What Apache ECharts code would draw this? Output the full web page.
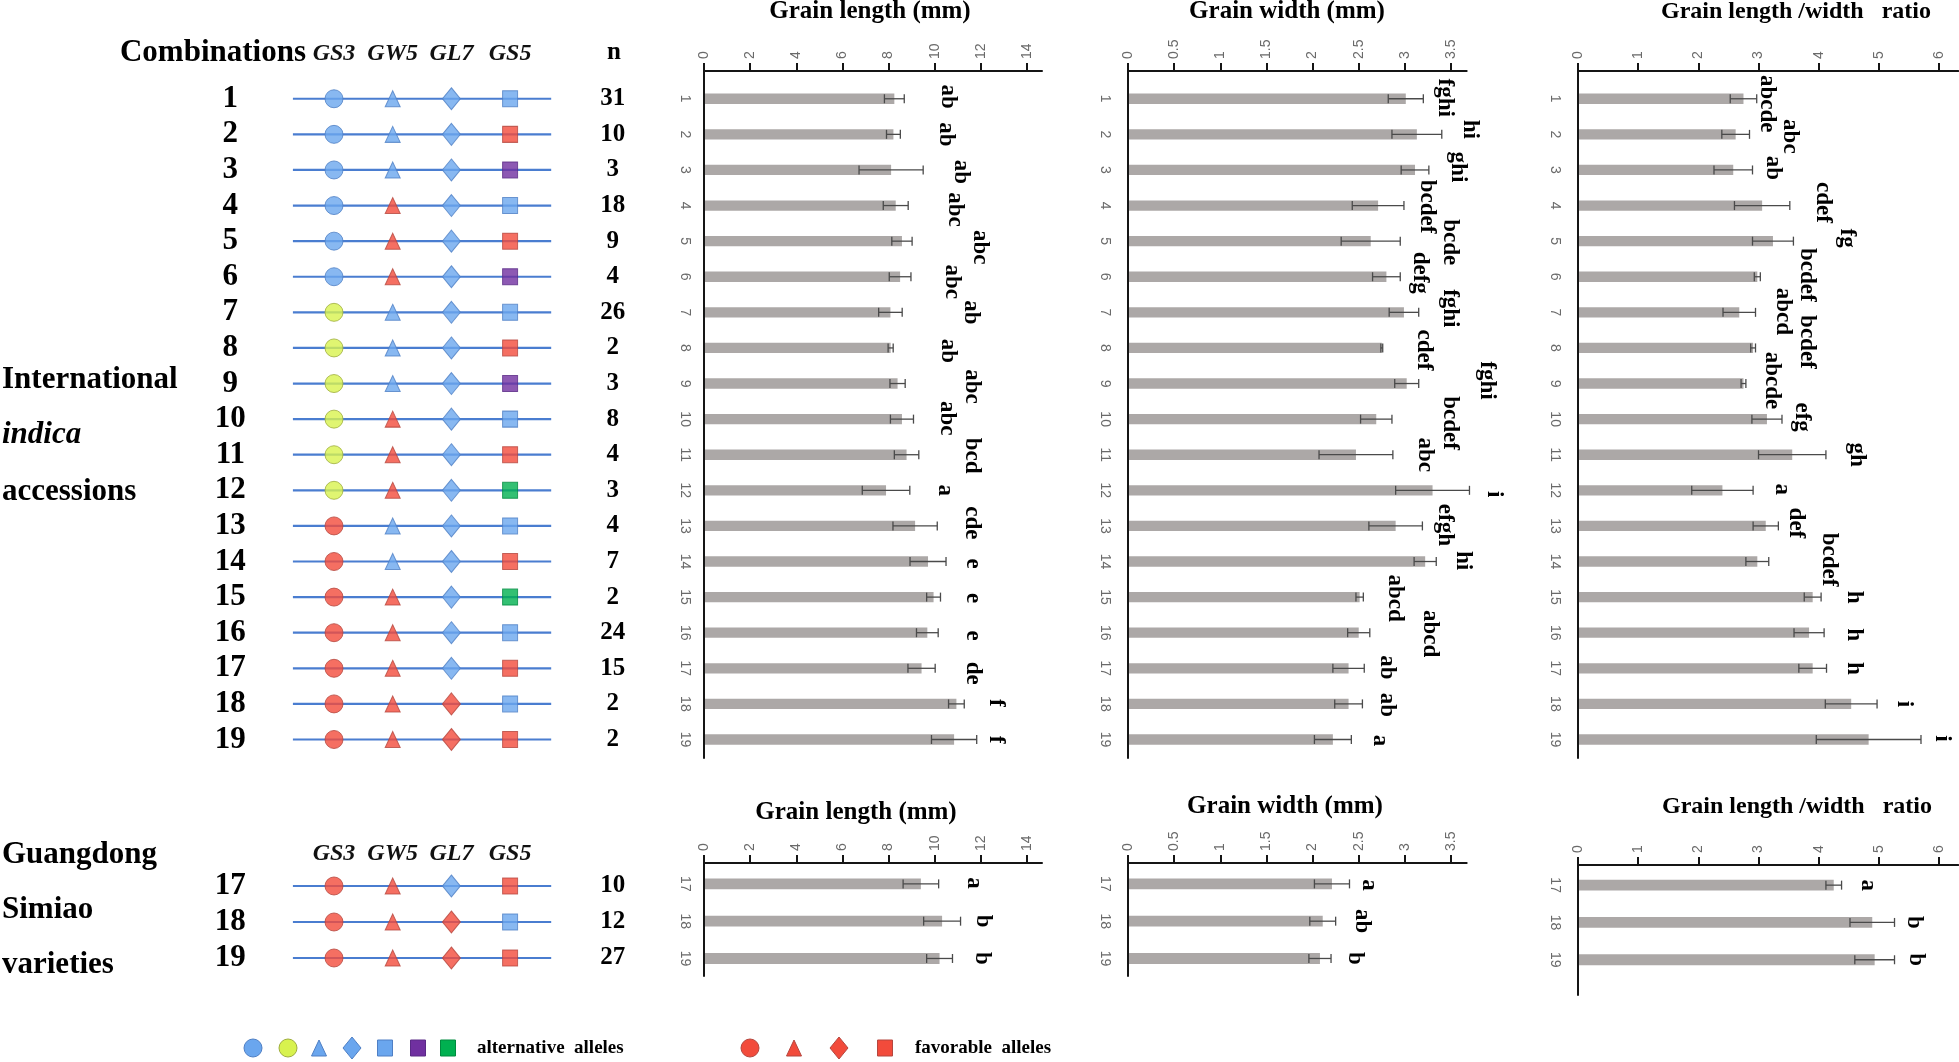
<!DOCTYPE html>
<html><head><meta charset="utf-8">
<script src="https://cdn.jsdelivr.net/npm/echarts@6/dist/echarts.min.js"></script>
<style>html,body{margin:0;padding:0;background:#fff}#c{width:1959px;height:1062px}</style>
</head><body><div id="c"></div>
<script>
// ---------------- DATA ----------------
const combosTop = [1,2,3,4,5,6,7,8,9,10,11,12,13,14,15,16,17,18,19];
const combosBottom = [17,18,19];
const genes = ['GS3','GW5','GL7','GS5'];
// allele code per gene (B blue alt, Y yellow alt, P purple alt, G green alt, R favorable)
const genotypesTop = ['BBBB','BBBR','BBBP','BRBB','BRBR','BRBP','YBBB','YBBR','YBBP','YRBB','YRBR','YRBG','RBBB','RBBR','RRBG','RRBB','RRBR','RRRB','RRRR'];
const genotypesBottom = ['RRBR','RRRB','RRRR'];
const nTop = [31,10,3,18,9,4,26,2,3,8,4,3,4,7,2,24,15,2,2];
const nBottom = [10,12,27];

const lengthMeanTop = [8.25,8.21,8.11,8.31,8.58,8.50,8.08,8.09,8.39,8.58,8.78,7.89,9.15,9.71,9.95,9.68,9.43,10.94,10.84];
const lengthSdTop   = [0.43,0.30,1.39,0.54,0.44,0.47,0.51,0.11,0.33,0.50,0.53,1.03,0.96,0.78,0.30,0.47,0.59,0.34,0.98];
const lengthLettersTop = ['ab','ab','ab','abc','abc','abc','ab','ab','abc','abc','bcd','a','cde','e','e','e','de','f','f'];

const widthMeanTop = [3.01,3.13,3.11,2.71,2.63,2.80,2.99,2.75,3.02,2.69,2.47,3.30,2.90,3.22,2.51,2.50,2.39,2.39,2.22];
const widthSdTop   = [0.19,0.27,0.15,0.28,0.32,0.15,0.16,0.01,0.13,0.17,0.40,0.40,0.29,0.12,0.04,0.12,0.17,0.15,0.20];
const widthLettersTop = ['fghi','hi','ghi','bcdef','bcde','defg','fghi','cdef','fghi','bcdef','abc','i','efgh','hi','abcd','abcd','ab','ab','a'];

const ratioMeanTop = [2.75,2.62,2.58,3.06,3.24,2.98,2.68,2.91,2.75,3.14,3.56,2.40,3.12,2.98,3.90,3.84,3.90,4.54,4.83];
const ratioSdTop   = [0.22,0.23,0.32,0.46,0.34,0.05,0.27,0.04,0.04,0.25,0.56,0.51,0.21,0.19,0.14,0.25,0.23,0.43,0.87];
const ratioLettersTop = ['abcde','abc','ab','cdef','fg','bcdef','abcd','bcdef','abcde','efg','gh','a','def','bcdef','h','h','h','i','i'];

const lengthMeanBottom = [9.40,10.32,10.21];
const lengthSdBottom   = [0.77,0.80,0.56];
const lengthLettersBottom = ['a','b','b'];
const widthMeanBottom = [2.21,2.11,2.08];
const widthSdBottom   = [0.19,0.14,0.12];
const widthLettersBottom = ['a','ab','b'];
const ratioMeanBottom = [4.25,4.89,4.93];
const ratioSdBottom   = [0.13,0.37,0.33];
const ratioLettersBottom = ['a','b','b'];

const lengthTicks = [0,2,4,6,8,10,12,14];
const widthTicks = [0,0.5,1,1.5,2,2.5,3,3.5];
const ratioTicks = [0,1,2,3,4,5,6];

const titleLength = 'Grain length (mm)';
const titleWidth = 'Grain width (mm)';
const titleRatio = 'Grain length /width   ratio';

// ---------------- LAYOUT (pixel offsets of the significance letters) ----------------
const SHIFT_LEN_TOP = {dx:[44,46,38,47,68,41,69,55,67,33,53,35,35,27,32,35,38,32,19], dy:[-2,0,2,4,6,5,0,3,3,-1,1,0,-3,2,1,3,5,-1,0]};
const SHIFT_WID_TOP = {dx:[22,28,29,23,50,20,31,41,68,58,32,24,23,27,32,60,23,25,29], dy:[-1,-5,-3,1,1,-4,-4,2,-3,4,0,4,-1,-1,1,1,-1,1,1]};
const SHIFT_RAT_TOP = {dx:[10,40,20,33,54,47,27,51,26,20,31,29,18,60,33,30,27,27,21], dy:[5,2,-2,-3,-3,-2,-1,-6,-3,-2,0,-1,-3,-2,0,2,0,0,-1]};
const SHIFT_LEN_BOT = {dx:[35,22,29], dy:[-1,0,0]};
const SHIFT_WID_BOT = {dx:[19,26,24], dy:[1,0,0]};
const SHIFT_RAT_BOT = {dx:[26,19,21], dy:[0,0,0]};

const SERIF = '"Liberation Serif", "Times New Roman", serif';
const SANS = '"Liberation Sans", Arial, sans-serif';
const ALLELE = {
  B:{fill:'#6aa6ee', stroke:'#4f7fc4'},
  Y:{fill:'#d8f24e', stroke:'#9fae3d'},
  R:{fill:'#f24b3b', stroke:'#b5473f'},
  P:{fill:'#7030a0', stroke:'#5a2a86'},
  G:{fill:'#00b050', stroke:'#008a3e'}
};
const SYMBOLS = ['circle','triangle','diamond','rect'];
const SYMBOL_SIZES = [[18,18],[15,16],[18,22],[15,16]];
const BAR_COLOR = '#aca8a7';
const ERR_COLOR = '#4a4a4a';
const AXIS_COLOR = '#151515';

// grids: 0 geno top, 1 len top, 2 wid top, 3 ratio top, 4 geno bottom, 5 len bottom, 6 wid bottom, 7 ratio bottom
const grids = [
  {left:275.3, top:71, width:293.5, height:687},
  {left:704, top:71, width:338, height:687},
  {left:1128, top:71, width:338.7, height:687},
  {left:1578, top:71, width:380.3, height:687},
  {left:275.3, top:870, width:293.5, height:106},
  {left:704, top:863, width:338, height:113},
  {left:1128, top:863, width:338.7, height:113},
  {left:1578, top:865, width:380.3, height:130}
];
const yRange = [[0.22,19.52],[0.22,19.52],[0.22,19.52],[0.22,19.52],[16.556,19.5],[16.44,19.47],[16.44,19.47],[16.46,19.945]];

function barXAxis(gi, max, ticks){
  return {gridIndex:gi, type:'value', position:'top', min:0, max:max,
    axisLine:{show:true, onZero:false, lineStyle:{color:AXIS_COLOR, width:2}},
    axisTick:{show:true, customValues:ticks, length:8, lineStyle:{color:AXIS_COLOR, width:2}},
    axisLabel:{customValues:ticks, rotate:-90, margin:12, color:'#6a6a6a', fontSize:14, fontFamily:SANS},
    splitLine:{show:false}};
}
function barYAxis(gi, cats, margin){
  return {gridIndex:gi, type:'value', inverse:true, min:yRange[gi][0], max:yRange[gi][1],
    axisLine:{show:true, onZero:false, lineStyle:{color:AXIS_COLOR, width:2}},
    axisTick:{show:false},
    axisLabel:{customValues:cats, rotate:-90, margin:margin, color:'#6a6a6a', fontSize:14, fontFamily:SANS},
    splitLine:{show:false}};
}
function genoXAxis(gi, margin){
  return {gridIndex:gi, type:'value', position:'top', min:-1, max:4,
    axisLine:{show:false}, axisTick:{show:false}, splitLine:{show:false},
    axisLabel:{customValues:[0,1,2,3], formatter:v=>genes[Math.round(v)], margin:margin,
      fontStyle:'italic', fontWeight:'bold', fontSize:24, fontFamily:SERIF, color:'#111'}};
}
function genoYAxis(gi, cats){
  return {gridIndex:gi, type:'value', inverse:true, min:yRange[gi][0], max:yRange[gi][1],
    axisLine:{show:false}, axisTick:{show:false}, splitLine:{show:false},
    axisLabel:{customValues:cats, align:'center', margin:45, fontWeight:'bold', fontSize:31, fontFamily:SERIF, color:'#000'}};
}
function nYAxis(gi, cats, ns){
  return {gridIndex:gi, type:'value', position:'right', inverse:true, min:yRange[gi][0], max:yRange[gi][1],
    axisLine:{show:false}, axisTick:{show:false}, splitLine:{show:false},
    axisLabel:{customValues:cats, formatter:v=>String(ns[cats.indexOf(Math.round(v))]), align:'center', margin:44,
      fontWeight:'bold', fontSize:25, fontFamily:SERIF, color:'#000'}};
}

function barSeries(gi, cats, means, sds, letters, shift){
  return {type:'custom', xAxisIndex:gi, yAxisIndex:gi, clip:false, silent:true, z:3,
    data: cats.map((c,i)=>[means[i], c, sds[i], i]),
    encode:{x:0, y:1},
    renderItem:function(params, api){
      const m = api.value(0), c = api.value(1), sd = api.value(2), i = api.value(3);
      const p0 = api.coord([0, c]);
      const p1 = api.coord([m, c]);
      const band = api.size([0,1])[1];
      const h = band*0.29;
      const lo = api.coord([m-sd, c]);
      const hi = api.coord([m+sd, c]);
      const cap = 4.5;
      const ch = [
        {type:'rect', shape:{x:p0[0]+1, y:p0[1]-h/2, width:p1[0]-p0[0]-1, height:h}, style:{fill:BAR_COLOR}},
        {type:'line', shape:{x1:lo[0], y1:lo[1], x2:hi[0], y2:hi[1]}, style:{stroke:ERR_COLOR, lineWidth:1.3}},
        {type:'line', shape:{x1:lo[0], y1:lo[1]-cap, x2:lo[0], y2:lo[1]+cap}, style:{stroke:ERR_COLOR, lineWidth:1.3}},
        {type:'line', shape:{x1:hi[0], y1:hi[1]-cap, x2:hi[0], y2:hi[1]+cap}, style:{stroke:ERR_COLOR, lineWidth:1.3}},
        {type:'text', x:hi[0]+shift.dx[i], y:p1[1]+shift.dy[i], rotation:-Math.PI/2,
          style:{text:letters[i], align:'center', verticalAlign:'middle', fill:'#000',
            font:'bold 23px '+SERIF}}
      ];
      return {type:'group', children:ch};
    }};
}

function genoLineSeries(gi, cats){
  return {type:'custom', xAxisIndex:gi, yAxisIndex:gi, clip:false, silent:true, z:1,
    data: cats.map(c=>[0,c]), encode:{x:0, y:1},
    renderItem:function(params, api){
      const c = api.value(1);
      const a = api.coord([-0.7, c]), b = api.coord([3.7, c]);
      return {type:'line', shape:{x1:a[0], y1:a[1], x2:b[0], y2:b[1]}, style:{stroke:'#4a7dd0', lineWidth:2.2}};
    }};
}
function genoScatter(gi, cats, genotypes){
  const data = [];
  cats.forEach((c,i)=>{
    genes.forEach((g,j)=>{
      const a = ALLELE[genotypes[i][j]];
      data.push({value:[j,c], symbol:SYMBOLS[j], symbolSize:SYMBOL_SIZES[j],
        itemStyle:{color:a.fill, borderColor:a.stroke, borderWidth:1}});
    });
  });
  return {type:'scatter', xAxisIndex:gi, yAxisIndex:gi, silent:true, z:2, data:data};
}

function txt(text, x, y, font, align){
  return {type:'text', x:x, y:y, style:{text:text, font:font, fill:'#000', align:align||'center', verticalAlign:'middle'}};
}
function symEl(kind, x, y, code){
  const c = ALLELE[code];
  const style = {fill:c.fill, stroke:c.stroke, lineWidth:1};
  if (kind==='circle') return {type:'circle', x:x, y:y, shape:{cx:0, cy:0, r:9}, style:style};
  if (kind==='triangle') return {type:'polygon', x:x, y:y, shape:{points:[[0,-8],[7.5,8],[-7.5,8]]}, style:style};
  if (kind==='diamond') return {type:'polygon', x:x, y:y, shape:{points:[[0,-11],[9,0],[0,11],[-9,0]]}, style:style};
  return {type:'rect', x:x, y:y, shape:{x:-7.5, y:-8, width:15, height:16}, style:style};
}

const legendAlt = [['circle','B'],['circle','Y'],['triangle','B'],['diamond','B'],['rect','B'],['rect','P'],['rect','G']];
const legendFav = [['circle','R'],['triangle','R'],['diamond','R'],['rect','R']];
const LEG_ALT_X = [253,288,319,352,385,418,448];
const LEG_FAV_X = [750,794,839,885];
const LEG_Y = 1048;

const B31 = 'bold 31px '+SERIF;
const graphic = [
  txt('Combinations', 213, 53, B31),
  txt('n', 614, 53, 'bold 25px '+SERIF),
  txt('International', 2, 380, B31, 'left'),
  txt('indica', 2, 435, 'italic '+B31, 'left'),
  txt('accessions', 2, 492, B31, 'left'),
  txt('Guangdong', 2, 855, B31, 'left'),
  txt('Simiao', 2, 910, B31, 'left'),
  txt('varieties', 2, 965, B31, 'left'),
  txt(titleLength, 870, 12, 'bold 25px '+SERIF),
  txt(titleWidth, 1287, 12, 'bold 25px '+SERIF),
  txt(titleRatio, 1796, 12, 'bold 24px '+SERIF),
  txt(titleLength, 856, 813, 'bold 25px '+SERIF),
  txt(titleWidth, 1285, 807, 'bold 25px '+SERIF),
  txt(titleRatio, 1797, 807, 'bold 24px '+SERIF),
  txt('alternative  alleles', 477, LEG_Y, 'bold 19px '+SERIF, 'left'),
  txt('favorable  alleles', 915, LEG_Y, 'bold 19px '+SERIF, 'left')
];
legendAlt.forEach((s,i)=>graphic.push(symEl(s[0], LEG_ALT_X[i], LEG_Y, s[1])));
legendFav.forEach((s,i)=>graphic.push(symEl(s[0], LEG_FAV_X[i], LEG_Y, s[1])));

const option = {
  animation:false,
  backgroundColor:'#fff',
  grid: grids.map(g=>Object.assign({containLabel:false}, g)),
  xAxis:[
    genoXAxis(0, 5),
    barXAxis(1, 14.65, lengthTicks),
    barXAxis(2, 3.67, widthTicks),
    barXAxis(3, 6.32, ratioTicks),
    genoXAxis(4, 4),
    barXAxis(5, 14.65, lengthTicks),
    barXAxis(6, 3.67, widthTicks),
    barXAxis(7, 6.32, ratioTicks)
  ],
  yAxis:[
    genoYAxis(0, combosTop),
    barYAxis(1, combosTop, 12),
    barYAxis(2, combosTop, 16),
    barYAxis(3, combosTop, 16),
    genoYAxis(4, combosBottom),
    barYAxis(5, combosBottom, 12),
    barYAxis(6, combosBottom, 16),
    barYAxis(7, combosBottom, 16),
    nYAxis(0, combosTop, nTop),
    nYAxis(4, combosBottom, nBottom)
  ],
  graphic: graphic,
  series:[
    genoLineSeries(0, combosTop),
    genoScatter(0, combosTop, genotypesTop),
    genoLineSeries(4, combosBottom),
    genoScatter(4, combosBottom, genotypesBottom),
    barSeries(1, combosTop, lengthMeanTop, lengthSdTop, lengthLettersTop, SHIFT_LEN_TOP),
    barSeries(2, combosTop, widthMeanTop, widthSdTop, widthLettersTop, SHIFT_WID_TOP),
    barSeries(3, combosTop, ratioMeanTop, ratioSdTop, ratioLettersTop, SHIFT_RAT_TOP),
    barSeries(5, combosBottom, lengthMeanBottom, lengthSdBottom, lengthLettersBottom, SHIFT_LEN_BOT),
    barSeries(6, combosBottom, widthMeanBottom, widthSdBottom, widthLettersBottom, SHIFT_WID_BOT),
    barSeries(7, combosBottom, ratioMeanBottom, ratioSdBottom, ratioLettersBottom, SHIFT_RAT_BOT)
  ]
};
const chart = echarts.init(document.getElementById('c'), null, {renderer:'canvas'});
chart.setOption(option);
</script>
</body></html>
